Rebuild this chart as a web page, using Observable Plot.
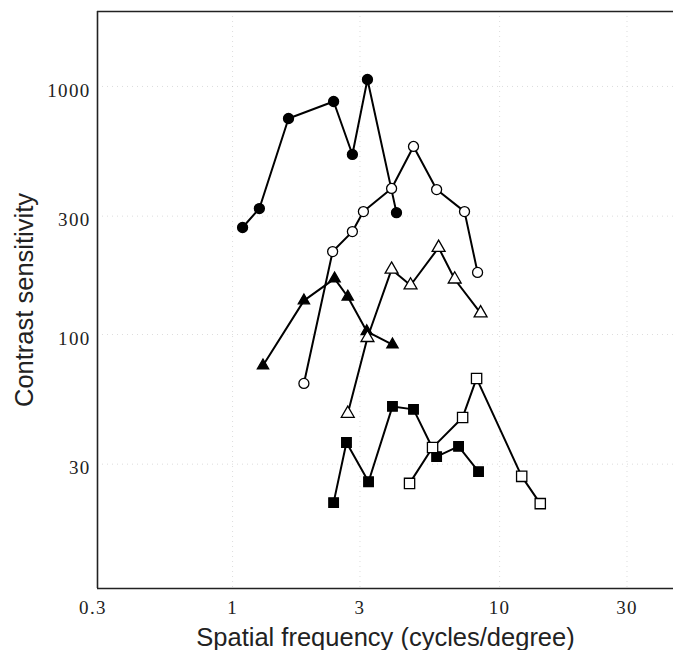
<!DOCTYPE html>
<html>
<head>
<meta charset="utf-8">
<script src="https://cdn.jsdelivr.net/npm/d3@7"></script>
<script src="https://cdn.jsdelivr.net/npm/@observablehq/plot@0.6"></script>
<style>
  html, body { margin: 0; padding: 0; background: #fff; }
  #chart svg { display: block; }
</style>
</head>
<body>
<div id="chart"></div>
<script>
// Filled circles
const fcX = [1.09, 1.26, 1.62, 2.39, 2.81, 3.20, 4.11];
const fcY = [270, 322, 743, 870, 532, 1067, 310];
// Open circles
const ocX = [1.85, 2.37, 2.81, 3.09, 3.94, 4.76, 5.81, 7.39, 8.27];
const ocY = [63.5, 216, 260, 313, 388, 573, 384, 313, 178];
// Filled triangles
const ftX = [1.30, 1.85, 2.41, 2.70, 3.18, 3.97];
const ftY = [75, 137, 168, 142, 103, 91];
// Open triangles
const otX = [2.70, 3.20, 3.94, 4.64, 5.91, 6.79, 8.49];
const otY = [48, 97, 183, 158, 224, 167, 122];
// Filled squares
const fsX = [2.39, 2.67, 3.23, 3.97, 4.76, 5.81, 7.02, 8.34];
const fsY = [21.0, 36.7, 25.5, 51.3, 49.9, 32.2, 35.4, 28.0];
// Open squares
const osX = [4.60, 5.61, 7.27, 8.20, 12.1, 14.2];
const osY = [25.1, 35.0, 46.3, 66.5, 26.8, 20.8];

const xTicks = [0.3, 1, 3, 10, 30];
const xTickLabels = ["0.3", "1", "3", "10", "30"];
const yTicks = [30, 100, 300, 1000];
const yTickLabels = ["30", "100", "300", "1000"];
const xDomain = [0.312, 44.8];
const yDomain = [9.46, 2006];
const xLabel = "Spatial frequency (cycles/degree)";
const yLabel = "Contrast sensitivity";

const series = [
  {x: fcX, y: fcY, symbol: "circle", fill: "black", r: 5},
  {x: ocX, y: ocY, symbol: "circle", fill: "white", r: 5},
  {x: ftX, y: ftY, symbol: "triangle", fill: "black", r: 4.2},
  {x: otX, y: otY, symbol: "triangle", fill: "white", r: 4.8},
  {x: fsX, y: fsY, symbol: "square", fill: "black", r: 5.4},
  {x: osX, y: osY, symbol: "square", fill: "white", r: 5.8}
];

const marks = [
  Plot.gridX([1, 3, 10, 30], {stroke: "#bbb", strokeOpacity: 0.5, strokeDasharray: "1,4"}),
  Plot.gridY(yTicks, {stroke: "#bbb", strokeOpacity: 0.5, strokeDasharray: "1,4"}),
  Plot.ruleX([xDomain[0]], {stroke: "#222", strokeWidth: 1.6}),
  Plot.ruleY(yDomain, {stroke: "#222", strokeWidth: 1.6}),
  Plot.axisX(xTicks, {tickSize: 0, tickPadding: 12, fontSize: 19, fontFamily: "Liberation Serif", fill: "#222",
    tickFormat: (d) => xTickLabels[xTicks.indexOf(d)],
    label: xLabel, labelAnchor: "center", labelOffset: 57, labelArrow: "none"}),
  Plot.axisY(yTicks, {tickSize: 0, tickPadding: 7, fontSize: 19, fontFamily: "Liberation Serif", fill: "#222", dy: 4,
    tickFormat: (d) => yTickLabels[yTicks.indexOf(d)],
    label: yLabel, labelAnchor: "center", labelOffset: 83, labelArrow: "none"})
];
for (const s of series) {
  const data = s.x.map((x, i) => ({x, y: s.y[i]}));
  marks.push(Plot.line(data, {x: "x", y: "y", stroke: "black", strokeWidth: 2}));
}
for (const s of series) {
  const data = s.x.map((x, i) => ({x, y: s.y[i]}));
  marks.push(Plot.dot(data, {x: "x", y: "y", symbol: s.symbol, fill: s.fill, stroke: "black", strokeWidth: 1.3, r: s.r}));
}

const chart = Plot.plot({
  width: 673,
  height: 650,
  marginLeft: 97,
  marginRight: 0,
  marginTop: 11,
  marginBottom: 62,
  style: {background: "#fff", color: "#111"},
  x: {type: "log", domain: xDomain},
  y: {type: "log", domain: yDomain},
  marks
});
// style axis labels (sans-serif, larger), strip any arrows
chart.querySelectorAll("[aria-label='x-axis label'] text, [aria-label='y-axis label'] text").forEach(t => {
  t.setAttribute("font-family", "Liberation Sans, Arial, sans-serif");
  t.setAttribute("font-size", "25.5");
  t.style.fontFamily = "Liberation Sans, Arial, sans-serif";
  t.style.fontSize = "25.5px";
  t.textContent = t.textContent.replace(/\s*[→↑←↓]\s*/g, "").trim();
});
// wider serif tick numerals as in the reference
chart.querySelectorAll("[aria-label='x-axis tick label'] text, [aria-label='y-axis tick label'] text").forEach(t => {
  t.style.letterSpacing = "1.3px";
});
document.getElementById("chart").appendChild(chart);
</script>
</body>
</html>
